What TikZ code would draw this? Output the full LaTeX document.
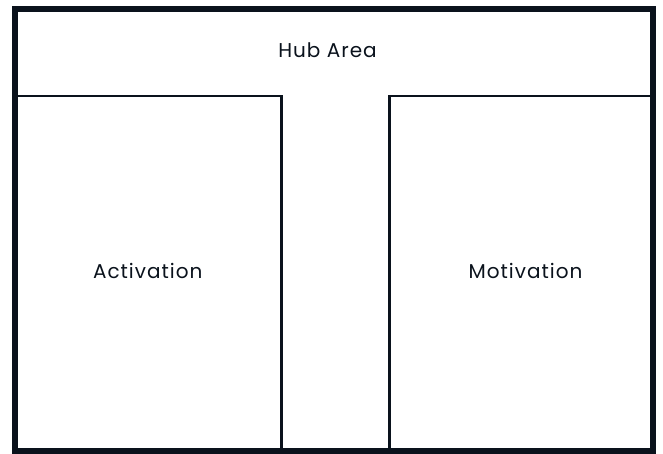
\documentclass[tikz,border=0pt]{standalone}
\usepackage{fontspec}
\setmainfont{Poppins}[LetterSpace=5]
\definecolor{ink}{RGB}{10,18,28}
\begin{document}
\begin{tikzpicture}[x=1pt,y=-1pt,
  wall/.style={draw=ink,line width=2.6pt},
  outerwall/.style={draw=ink,line width=6pt},
  label/.style={text=ink,font=\fontsize{20}{24}\selectfont,inner sep=0pt}]
\useasboundingbox (0,0) rectangle (663,453);
% inner walls
\coordinate (hl) at (14.7,96);
\coordinate (hr) at (653.3,96);
\coordinate (cl) at (281.5,96);
\coordinate (cr) at (389.5,96);
\coordinate (bl) at (281.5,450.7);
\coordinate (br) at (389.5,450.7);
\draw[wall] (hl) -- (cl) -- (bl);
\draw[wall] (hr) -- (cr) -- (br);
% outer wall
\draw[outerwall] (14.7,8.7) rectangle (653.3,450.7);
% labels
\node[label] (hub) at (327.5,50) {Hub Area};
\node[label] (act) at (147.7,271) {Activation};
\node[label] (mot) at (525.5,271) {Motivation};
\end{tikzpicture}
\end{document}
